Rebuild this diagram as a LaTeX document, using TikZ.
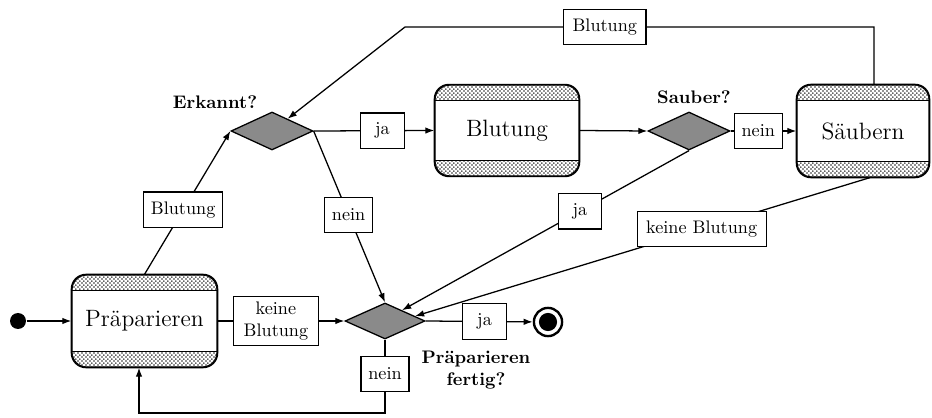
\documentclass[tikz,border=0pt]{standalone}
\usetikzlibrary{shapes.geometric,arrows.meta,patterns,calc}
\definecolor{decgray}{RGB}{138,138,138}

% fine staggered dot texture for the action strips
\pgfdeclarepatternformonly{finedots}{\pgfpointorigin}{\pgfpoint{2.4pt}{2.4pt}}{\pgfpoint{2.4pt}{2.4pt}}{%
  \pgfpathcircle{\pgfpoint{0.6pt}{0.6pt}}{0.55pt}%
  \pgfpathcircle{\pgfpoint{1.8pt}{1.8pt}}{0.55pt}%
  \pgfusepath{fill}%
}

% hatched top and bottom strips of an action box
\newcommand\stripbox[1]{%
  \begin{scope}
    \clip[rounded corners=8pt] (#1.south west) rectangle (#1.north east);
    \fill[pattern=finedots, pattern color=black!85]
      (#1.north west) rectangle ($(#1.north east)+(0,16)$);
    \fill[pattern=finedots, pattern color=black!85]
      (#1.south west) rectangle ($(#1.south east)+(0,-16)$);
  \end{scope}
  \draw ($(#1.north west)+(0,16)$) -- ($(#1.north east)+(0,16)$);
  \draw ($(#1.south west)+(0,-16)$) -- ($(#1.south east)+(0,-16)$);
  \draw[rounded corners=8pt] (#1.south west) rectangle (#1.north east);
}

\begin{document}
\begin{tikzpicture}[x=0.55pt,y=-0.55pt,line width=0.7pt,
  >={Latex[length=5pt,width=3.6pt]},
  action/.style={draw, rounded corners=8pt, inner sep=0pt,
    font=\fontsize{13}{15}\selectfont},
  decision/.style={diamond, draw, fill=decgray, inner sep=0pt},
  lbl/.style={draw, fill=white, inner xsep=4pt, inner ysep=0pt,
    minimum height=19.5pt, minimum width=24pt, font=\normalsize},
  title/.style={font=\bfseries, align=center},
  flow/.style={->}
]
\useasboundingbox (0,0) rectangle (932,418);

% start and end
\node[circle, fill=black, inner sep=0pt, minimum size=8.8pt] (start) at (18,321) {};
\node[circle, draw, line width=1.3pt, inner sep=0pt, minimum size=15.5pt] (fin) at (548,322) {};
\fill (fin.center) circle (5pt);

% actions
\node[action, minimum width=79.75pt, minimum height=50.6pt] (prep) at (144.5,321) {Präparieren};
\node[action, minimum width=79.2pt, minimum height=50pt] (blut) at (507,130.5) {Blutung};
\node[action, minimum width=72.6pt, minimum height=50.6pt] (saub) at (863,131) {Säubern};
\stripbox{prep}
\stripbox{blut}
\stripbox{saub}

% decisions
\node[decision, minimum width=45.1pt, minimum height=20.9pt] (erk) at (272,131) {};
\node[decision, minimum width=45.1pt, minimum height=20.9pt] (sau) at (689,131) {};
\node[decision, minimum width=44pt, minimum height=19.8pt] (fert) at (385,321) {};

% decision titles
\node[title] (terk) at (215,102) {Erkannt?};
\node[title] (tsau) at (694,97) {Sauber?};
\node[title] (tfert) at (476,370) {Präparieren\\fertig?};

% helper points
\coordinate (tr) at (874,27);
\coordinate (tl) at (405,27);
\coordinate (lb) at (139,413);
\coordinate (fja) at ($(fert.north)!0.42!(fert.east)$);
\coordinate (fkb) at ($(fert.north)!0.74!(fert.east)$);
\coordinate (skb) at ($(saub.south)+(7,0)$);

% flows
\draw[flow] (start) -- (prep.west);
\draw[flow] (prep.north) -- node[lbl, pos=0.45] {Blutung} (erk.west);
\draw[flow] (erk.east) -- node[lbl, pos=0.57] {ja} (blut.west);
\draw[flow] (erk.east) -- node[lbl, pos=0.49] {nein} (fert.north);
\draw[flow] (blut.east) -- (sau.west);
\draw[flow] (sau.east) -- node[lbl, pos=0.42] {nein} (saub.west);
\draw[flow] (sau.south) -- node[lbl, pos=0.38] {ja} (fja);
\draw[flow] (skb) -- node[lbl, pos=0.37, inner xsep=5pt] {keine Blutung} (fkb);
\draw[flow] (saub.north -| tr) -- (tr) -- node[lbl, pos=0.574, inner xsep=5pt] {Blutung} (tl) -- (erk);
\draw[flow] (prep.east) -- node[lbl, pos=0.46, align=center, inner ysep=3pt, inner xsep=5.5pt] {keine\\Blutung} (fert.west);
\draw[flow] (fert.east) -- node[lbl, pos=0.55] {ja} (fin);
\draw[flow] (fert.south) -- node[lbl, pos=0.47] {nein} (fert.south |- lb) -- (lb) -- (prep.south -| lb);
\end{tikzpicture}
\end{document}
